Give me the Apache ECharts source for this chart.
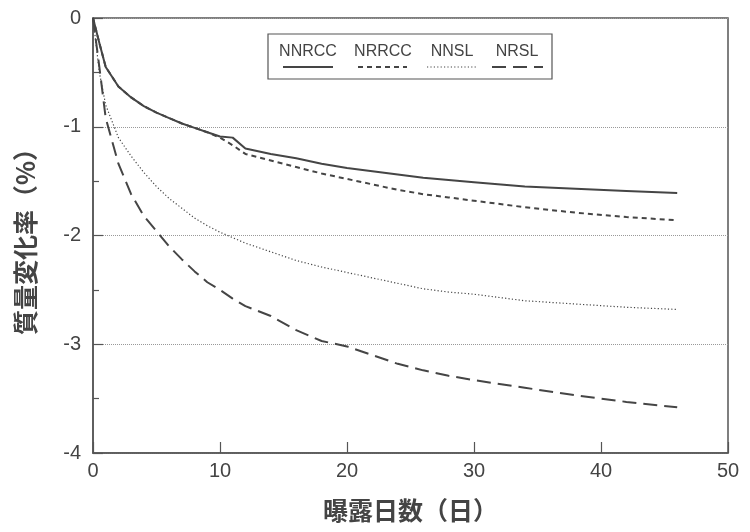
<!DOCTYPE html>
<html>
<head>
<meta charset="utf-8">
<script src="https://cdn.jsdelivr.net/npm/echarts@6/dist/echarts.min.js"></script>
<style>html,body{margin:0;padding:0;background:#fff;}#c{width:750px;height:532px;}</style>
</head>
<body>
<div id="c"></div>
<script>
// ---- data ----
const days   = [0, 0.5, 1, 2, 3, 4, 5, 6, 7, 8, 9, 10, 11, 12, 14, 16, 18, 20, 22, 24, 26, 28, 30, 34, 38, 42, 46];
const NNRCC  = [0, -0.23, -0.45, -0.63, -0.73, -0.81, -0.87, -0.92, -0.97, -1.01, -1.05, -1.09, -1.10, -1.20, -1.25, -1.29, -1.34, -1.38, -1.41, -1.44, -1.47, -1.49, -1.51, -1.55, -1.57, -1.59, -1.61];
const NRRCC  = [0, -0.23, -0.45, -0.63, -0.73, -0.81, -0.87, -0.92, -0.97, -1.01, -1.05, -1.10, -1.17, -1.25, -1.31, -1.37, -1.43, -1.48, -1.53, -1.58, -1.62, -1.65, -1.68, -1.74, -1.79, -1.83, -1.86];
const NNSL   = [0, -0.50, -0.80, -1.10, -1.27, -1.42, -1.55, -1.66, -1.75, -1.84, -1.91, -1.97, -2.02, -2.07, -2.15, -2.23, -2.29, -2.34, -2.39, -2.44, -2.49, -2.52, -2.54, -2.60, -2.63, -2.66, -2.68];
const NRSL   = [0, -0.45, -0.92, -1.34, -1.62, -1.82, -1.96, -2.10, -2.22, -2.33, -2.43, -2.50, -2.58, -2.65, -2.74, -2.87, -2.97, -3.02, -3.10, -3.18, -3.24, -3.29, -3.33, -3.40, -3.47, -3.53, -3.58];
const seriesNames = ['NNRCC', 'NRRCC', 'NNSL', 'NRSL'];
const xTicks = [0, 10, 20, 30, 40, 50];
const yTicks = [0, -1, -2, -3, -4];
const xName = '曝露日数（日）';
const yName = '質量変化率（%）';

// ---- styles ----
const ink = '#454545';
const styles = [
  {type: 'solid', width: 2},
  {type: [5, 4], width: 2},
  {type: [1.2, 2.2], width: 1.2},
  {type: [14, 7], width: 2}
];
const allVals = [NNRCC, NRRCC, NNSL, NRSL];

const chart = echarts.init(document.getElementById('c'), null, {renderer: 'canvas'});
const font = '"Liberation Sans", Arial, sans-serif';
const cjk = '"Noto Sans CJK JP", "Noto Sans CJK SC", sans-serif';

const series = seriesNames.map((n, i) => ({
  name: n,
  type: 'line',
  showSymbol: false,
  symbol: 'none',
  data: days.map((d, k) => [d, allVals[i][k]]),
  lineStyle: {color: ink, width: styles[i].width, type: styles[i].type},
  z: 3
}));

// legend (drawn as graphic, text above line sample)
const legX = [308, 383, 452, 517];
const legLine = [[283, 333], [358, 407], [427, 478], [492, 543]];
const graphics = [
  {type: 'rect', shape: {x: 268, y: 34, width: 284, height: 45}, style: {fill: '#fff', stroke: '#555', lineWidth: 1.2}, z: 10}
];
seriesNames.forEach((n, i) => {
  graphics.push({type: 'text', x: legX[i], y: 52, z: 11,
    style: {text: n, fill: '#444', font: '16px ' + font, textAlign: 'center', textVerticalAlign: 'middle'}});
  graphics.push({type: 'line', z: 11,
    shape: {x1: legLine[i][0], y1: 67, x2: legLine[i][1], y2: 67},
    style: {stroke: ink, lineWidth: styles[i].width, lineDash: Array.isArray(styles[i].type) ? styles[i].type : null}});
});

chart.setOption({
  animation: false,
  backgroundColor: '#fff',
  grid: {left: 93, right: 22, top: 18, bottom: 79, show: true, borderColor: '#555', borderWidth: 1.5, backgroundColor: 'transparent'},
  xAxis: {
    type: 'value', min: xTicks[0], max: xTicks[xTicks.length - 1], interval: 10,
    name: xName, nameLocation: 'middle', nameGap: 45,
    nameTextStyle: {fontFamily: cjk, fontSize: 25, fontWeight: 'bold', color: '#444'},
    axisLine: {show: true, onZero: false, lineStyle: {color: '#555', width: 1.5}},
    axisTick: {show: true, inside: true, length: 11, lineStyle: {color: '#555', width: 1.2}},
    axisLabel: {color: '#444', fontSize: 20, fontFamily: font, margin: 8},
    splitLine: {show: false}
  },
  yAxis: {
    type: 'value', min: yTicks[yTicks.length - 1], max: yTicks[0], interval: 1,
    name: yName, nameLocation: 'middle', nameGap: 55, nameRotate: 90,
    nameTextStyle: {fontFamily: cjk, fontSize: 25, fontWeight: 'bold', color: '#444'},
    axisLine: {show: true, onZero: false, lineStyle: {color: '#555', width: 1.5}},
    axisTick: {show: true, inside: true, length: 10, lineStyle: {color: '#555', width: 1.2}},
    minorTick: {show: true, splitNumber: 2, length: 6, lineStyle: {color: '#555', width: 1.2}},
    axisLabel: {color: '#444', fontSize: 20, fontFamily: font, margin: 12},
    splitLine: {show: true, lineStyle: {color: '#999', type: [1, 1], width: 1}}
  },
  series: series,
  graphic: graphics
});
</script>
</body>
</html>
